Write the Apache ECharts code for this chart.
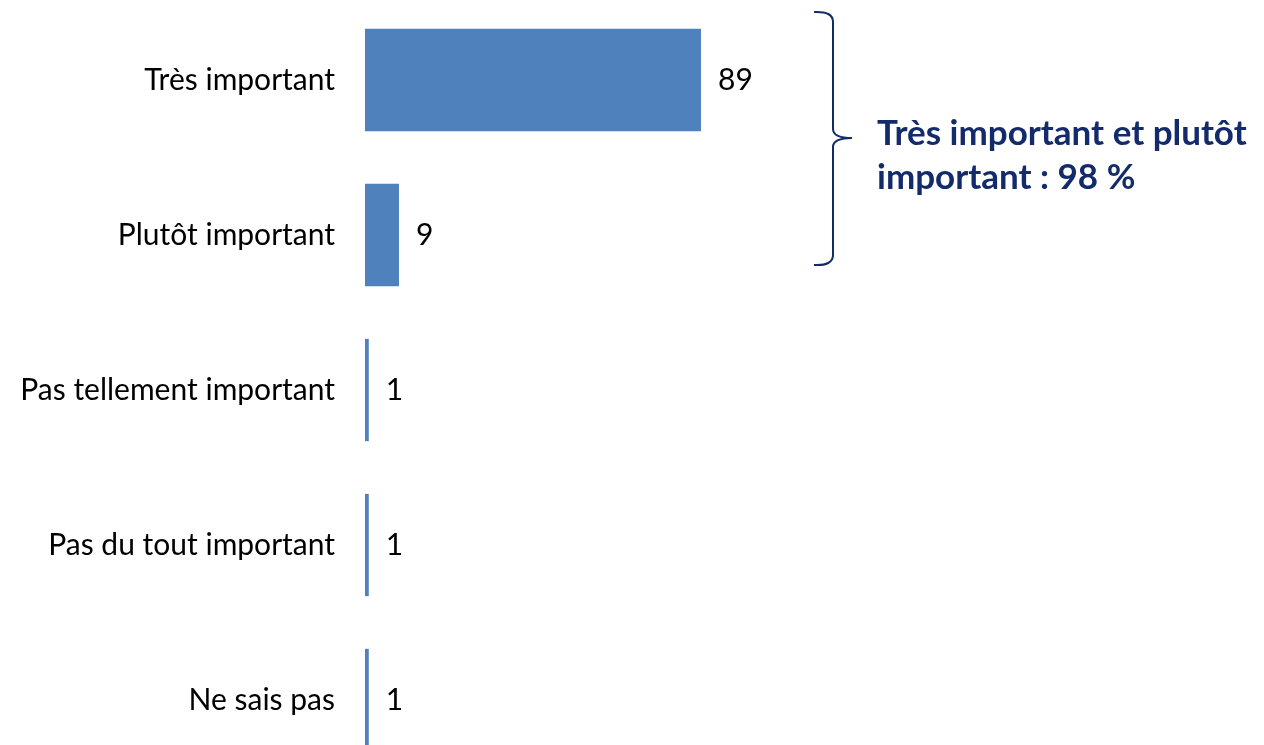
<!DOCTYPE html>
<html>
<head>
<meta charset="utf-8">
<script src="https://cdn.jsdelivr.net/npm/echarts@6/dist/echarts.min.js"></script>
<style>
  html, body { margin: 0; padding: 0; background: #fff; }
  #chart { width: 1264px; height: 745px; }
</style>
</head>
<body>
<div id="chart"></div>
<script>
// réponses
const categories = ["Très important", "Plutôt important", "Pas tellement important", "Pas du tout important", "Ne sais pas"];
// pourcentages
const values = [89, 9, 1, 1, 1];
// texte de synthèse
const summaryLines = ["Très important et plutôt", "important : 98 %"];

const font = "Lato, 'Open Sans', sans-serif";
const navy = "#132a6b";
const braceStyle = { fill: null, stroke: navy, lineWidth: 2 };

const chart = echarts.init(document.getElementById("chart"));
chart.setOption({
  animation: false,
  grid: {
    left: 365,
    top: 2.5,
    width: 377.5,
    height: 775,
    outerBoundsMode: "none",
    containLabel: false,
  },
  xAxis: {
    type: "value",
    min: 0,
    max: 100,
    show: false,
  },
  yAxis: {
    type: "category",
    data: categories,
    inverse: true,
    axisLine: { show: false },
    axisTick: { show: false },
    axisLabel: {
      margin: 30,
      color: "#000",
      fontSize: 30,
      fontFamily: font,
    },
  },
  series: [
    {
      type: "bar",
      data: values,
      barCategoryGap: "34%",
      itemStyle: { color: "#4f81bd" },
      label: {
        show: true,
        position: "right",
        distance: 17,
        color: "#000",
        fontSize: 30,
        fontFamily: font,
      },
    },
  ],
  graphic: [
    // accolade
    { type: "bezierCurve", shape: { x1: 814, y1: 12, x2: 833, y2: 22, cpx1: 833, cpy1: 11 }, style: braceStyle },
    { type: "line", shape: { x1: 833, y1: 22, x2: 833, y2: 129 }, style: braceStyle },
    { type: "bezierCurve", shape: { x1: 833, y1: 129, x2: 852, y2: 138, cpx1: 833, cpy1: 138 }, style: braceStyle },
    { type: "bezierCurve", shape: { x1: 852, y1: 138, x2: 833, y2: 147, cpx1: 833, cpy1: 138 }, style: braceStyle },
    { type: "line", shape: { x1: 833, y1: 147, x2: 833, y2: 255 }, style: braceStyle },
    { type: "bezierCurve", shape: { x1: 833, y1: 255, x2: 814, y2: 265, cpx1: 833, cpy1: 266 }, style: braceStyle },
    {
      type: "text",
      left: 877,
      top: 112,
      style: {
        text: summaryLines.join("\n"),
        fill: navy,
        font: "bold 35px " + font,
        lineHeight: 44,
      },
    },
  ],
});
</script>
</body>
</html>
